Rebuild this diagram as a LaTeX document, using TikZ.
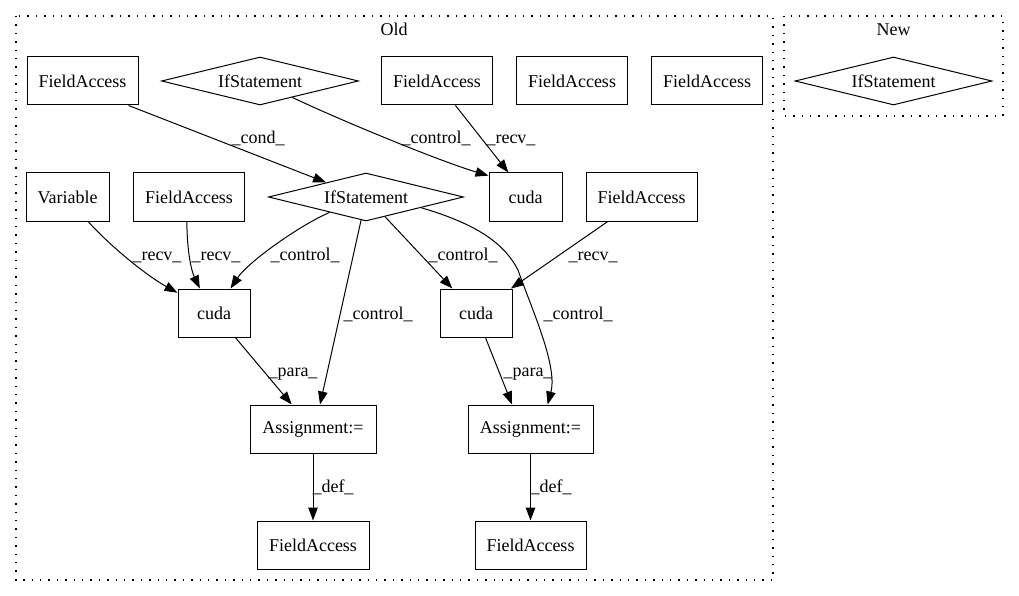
\documentclass[tikz,border=0pt]{standalone}
\usepackage{fontspec}
\setmainfont{Liberation Serif}
\usetikzlibrary{shapes.geometric,arrows.meta}
\begin{document}
\begin{tikzpicture}[x=1pt,y=-1pt,
  txt/.style={font=\fontsize{18}{21}\selectfont},
  box/.style={draw, rectangle, line width=1pt, minimum height=48pt, inner sep=0pt, txt},
  dia/.style={draw, diamond, aspect=5, line width=1pt, minimum width=197pt, minimum height=48pt, inner sep=0pt, txt},
  e/.style={line width=1pt, -{Triangle[length=13pt,width=9.5pt]}},
  lbl/.style={txt, inner sep=0pt, anchor=base},
  cluster/.style={draw, line width=1.3pt, dash pattern=on 1.4pt off 7pt}]
\useasboundingbox (0,0) rectangle (1019,596);
% clusters
\draw[cluster] (16,16) rectangle (773,580);
\draw[cluster] (784,16) rectangle (1003,116);
\node[lbl] (oldt) at (394,36) {Old};
\node[lbl] (newt) at (893.5,36) {New};
% nodes
\node[box, minimum width=111pt] (fa1) at (82.5,81) {FieldAccess};
\node[dia] (if1) at (260,81) {IfStatement};
\node[box, minimum width=111pt] (fa2) at (437,81) {FieldAccess};
\node[box, minimum width=111pt] (fa3) at (572,81) {FieldAccess};
\node[box, minimum width=111pt] (fa4) at (707,81) {FieldAccess};
\node[dia] (ifn) at (893.5,81) {IfStatement};
\node[box, minimum width=83pt] (var) at (67.5,197) {Variable};
\node[box, minimum width=111pt] (fa5) at (189,197) {FieldAccess};
\node[dia, minimum width=195pt] (if2) at (366,197) {IfStatement};
\node[box, minimum width=73pt] (cudaT) at (525.5,197) {cuda};
\node[box, minimum width=111pt] (fa6) at (641.5,197) {FieldAccess};
\node[box, minimum width=72pt] (cudaL) at (214,313) {cuda};
\node[box, minimum width=72pt] (cudaR) at (476,313) {cuda};
\node[box, minimum width=126pt] (asgL) at (313,429) {Assignment:=};
\node[box, minimum width=125pt] (asgR) at (530.5,429) {Assignment:=};
\node[box, minimum width=112pt] (faL) at (313,545) {FieldAccess};
\node[box, minimum width=111pt] (faR) at (530.5,545) {FieldAccess};
\coordinate (bend9) at (518,270);
% edges
\draw[e] (fa1.-28) -- (if2.160);
\draw[e] (if1.-27) .. controls (340,120) and (439,161) .. (cudaT.150);
\draw[e] (fa2.-53) -- (cudaT.125);
\draw[e] (var.-50) .. controls (113,249) and (149,277) .. (cudaL.151);
\draw[e] (fa5.-95) .. controls (187,250) and (191,270) .. (cudaL.120);
\draw[e] (if2.203) .. controls (300,225) and (248,262) .. (cudaL.56);
\draw[e] (if2.-102) -- (asgL.74);
\draw[e] (if2.-46) -- (cudaR.134);
\draw[e] (if2.-11) .. controls (480,225) and (505,245) .. (bend9) .. controls (530,305) and (558,365) .. (asgR.55);
\draw[e] (fa6.-144) -- (cudaR.35);
\draw[e] (cudaL.-49) -- (asgL.131);
\draw[e] (cudaR.-69) -- (asgR.127);
\draw[e] (asgL) -- (faL);
\draw[e] (asgR) -- (faR);
% labels
\node[lbl] (l1) at (258,144) {\_cond\_};
\node[lbl] (l2) at (436,144) {\_control\_};
\node[lbl] (l3) at (511,144) {\_recv\_};
\node[lbl] (l4) at (157,260.5) {\_recv\_};
\node[lbl] (l5) at (216,260.5) {\_recv\_};
\node[lbl] (l6) at (305,260.5) {\_control\_};
\node[lbl] (l7) at (463,260.5) {\_control\_};
\node[lbl] (l8) at (593,260.5) {\_recv\_};
\node[lbl] (l9) at (378,319) {\_control\_};
\node[lbl] (l10) at (578,319) {\_control\_};
\node[lbl] (l11) at (293,376.5) {\_para\_};
\node[lbl] (l12) at (528,376.5) {\_para\_};
\node[lbl] (l13) at (333,492) {\_def\_};
\node[lbl] (l14) at (551,492) {\_def\_};
\end{tikzpicture}
\end{document}
